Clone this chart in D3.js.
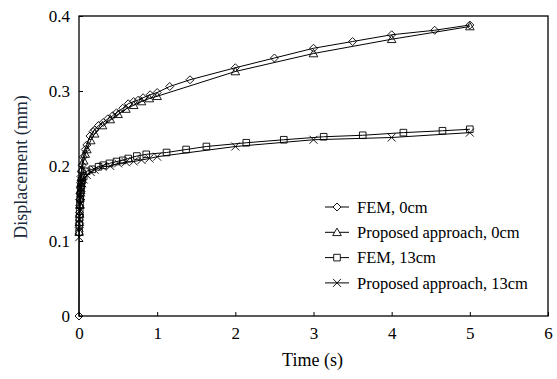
<!DOCTYPE html>
<html>
<head>
<meta charset="utf-8">
<script src="https://cdn.jsdelivr.net/npm/d3@7"></script>
<style>
  html, body { margin: 0; padding: 0; background: #fff; }
  #chart { width: 557px; height: 379px; }
</style>
</head>
<body>
<div id="chart"></div>
<script>
// Series (time in s, displacement in mm)
const femT0 = [0, 0.002, 0.004, 0.006, 0.008, 0.01, 0.013, 0.016, 0.02, 0.025, 0.03, 0.04, 0.055, 0.08, 0.1, 0.14, 0.18, 0.2, 0.25, 0.31, 0.37, 0.43, 0.48, 0.56, 0.63, 0.7, 0.76, 0.82, 0.91, 1.0, 1.16, 1.42, 2.0, 2.5, 3.0, 3.5, 4.0, 4.55, 5.0];
const femV0 = [0, 0.118, 0.128, 0.138, 0.147, 0.155, 0.163, 0.171, 0.178, 0.186, 0.193, 0.201, 0.212, 0.222, 0.228, 0.24, 0.246, 0.248, 0.254, 0.258, 0.263, 0.267, 0.271, 0.277, 0.283, 0.286, 0.288, 0.291, 0.295, 0.298, 0.306, 0.315, 0.331, 0.344, 0.357, 0.366, 0.375, 0.381, 0.388];

const propT0 = [0.002, 0.005, 0.008, 0.012, 0.016, 0.02, 0.025, 0.03, 0.04, 0.06, 0.08, 0.1, 0.15, 0.2, 0.3, 0.4, 0.5, 0.6, 0.7, 0.8, 0.9, 1.0, 2.0, 3.0, 4.0, 5.0];
const propV0 = [0.112, 0.125, 0.136, 0.148, 0.159, 0.168, 0.177, 0.185, 0.196, 0.207, 0.216, 0.222, 0.234, 0.243, 0.254, 0.262, 0.269, 0.276, 0.281, 0.286, 0.29, 0.293, 0.326, 0.35, 0.369, 0.386];

const femT13 = [0.002, 0.004, 0.006, 0.009, 0.012, 0.016, 0.02, 0.025, 0.03, 0.04, 0.06, 0.098, 0.17, 0.25, 0.31, 0.39, 0.48, 0.56, 0.63, 0.74, 0.86, 1.12, 1.37, 1.63, 2.14, 2.62, 3.13, 3.63, 4.15, 4.65, 5.0];
const femV13 = [0.112, 0.122, 0.131, 0.14, 0.148, 0.156, 0.163, 0.17, 0.175, 0.181, 0.186, 0.193, 0.1956, 0.199, 0.201, 0.2035, 0.206, 0.2075, 0.21, 0.2133, 0.2156, 0.218, 0.222, 0.226, 0.231, 0.235, 0.239, 0.241, 0.2445, 0.247, 0.249];

const propT13 = [0.002, 0.005, 0.008, 0.012, 0.016, 0.02, 0.025, 0.03, 0.04, 0.06, 0.1, 0.15, 0.2, 0.3, 0.4, 0.5, 0.6, 0.7, 0.8, 0.9, 1.0, 2.0, 3.0, 4.0, 5.0];
const propV13 = [0.105, 0.118, 0.129, 0.14, 0.15, 0.158, 0.165, 0.171, 0.177, 0.182, 0.188, 0.192, 0.195, 0.199, 0.2, 0.2035, 0.205, 0.206, 0.208, 0.21, 0.2124, 0.226, 0.235, 0.238, 0.2445];

const seriesNames = ["FEM, 0cm", "Proposed approach, 0cm", "FEM, 13cm", "Proposed approach, 13cm"];
const markerKinds = ["diamond", "triangle", "square", "cross"];
const xTicks = [0, 1, 2, 3, 4, 5, 6];
const yTicks = [0, 0.1, 0.2, 0.3, 0.4];

const FONT = "'Liberation Serif', 'Times New Roman', Times, serif";

const series = [
  { t: femT0, v: femV0 },
  { t: propT0, v: propV0 },
  { t: femT13, v: femV13 },
  { t: propT13, v: propV13 },
].map((s, i) => ({
  name: seriesNames[i],
  kind: markerKinds[i],
  points: s.t.map((t, j) => ({ t, v: s.v[j] })),
}));

const W = 557, H = 379;
const margin = { top: 16, right: 9, bottom: 63, left: 79 };
const width = W - margin.left - margin.right;
const height = H - margin.top - margin.bottom;

const svg = d3.select("#chart").append("svg")
  .attr("width", W).attr("height", H)
  .attr("viewBox", [0, 0, W, H])
  .attr("font-family", FONT);

const g = svg.append("g").attr("transform", `translate(${margin.left},${margin.top})`);

const x = d3.scaleLinear().domain([0, 6]).range([0, width]);
const y = d3.scaleLinear().domain([0, 0.4]).range([height, 0]);

// marker shapes, drawn around (0,0)
function markerPath(kind) {
  switch (kind) {
    case "diamond": return "M0,-4L4,0L0,4L-4,0Z";
    case "triangle": return "M0,-4.2L4.3,3.3L-4.3,3.3Z";
    case "square": return "M-3.3,-3.3H3.3V3.3H-3.3Z";
    case "cross": return "M-4,-4L4,4M-4,4L4,-4";
  }
}

// frame
g.append("rect")
  .attr("x", 0).attr("y", 0)
  .attr("width", width).attr("height", height)
  .attr("fill", "none").attr("stroke", "#000").attr("stroke-width", 1.3);

// X axis (ticks point inward)
g.append("g")
  .attr("transform", `translate(0,${height})`)
  .call(d3.axisBottom(x).tickValues(xTicks).tickFormat(d3.format("d")).tickSize(-4).tickPadding(11))
  .call((a) => a.attr("font-family", FONT).attr("font-size", 17))
  .call((a) => a.select(".domain").remove())
  .call((a) => a.selectAll(".tick line").attr("stroke", "#000"))
  .selectAll("text")
  .attr("fill", "#000");

// Y axis
g.append("g")
  .call(d3.axisLeft(y).tickValues(yTicks).tickFormat((d) => (d === 0 ? "0" : d3.format(".1f")(d))).tickSize(-4).tickPadding(9))
  .call((a) => a.attr("font-family", FONT).attr("font-size", 17))
  .call((a) => a.select(".domain").remove())
  .call((a) => a.selectAll(".tick line").attr("stroke", "#000"))
  .selectAll("text")
  .attr("fill", "#000");

// Lines
const line = d3.line().x((d) => x(d.t)).y((d) => y(d.v));

series.forEach((s) => {
  g.append("path")
    .datum(s.points)
    .attr("fill", "none")
    .attr("stroke", "#000")
    .attr("stroke-width", 1)
    .attr("d", line);
});

// Markers
series.forEach((s) => {
  g.append("g").selectAll("path")
    .data(s.points)
    .join("path")
    .attr("transform", (d) => `translate(${x(d.t)},${y(d.v)})`)
    .attr("d", markerPath(s.kind))
    .attr("fill", "none")
    .attr("stroke", "#000")
    .attr("stroke-width", 0.9);
});

// Axis titles
svg.append("text")
  .attr("x", margin.left + width / 2 - 1)
  .attr("y", 366)
  .attr("text-anchor", "middle")
  .attr("font-size", 18)
  .attr("fill", "#000")
  .text("Time (s)");

svg.append("text")
  .attr("transform", `translate(27,${margin.top + height / 2 + 1}) rotate(-90)`)
  .attr("text-anchor", "middle")
  .attr("font-size", 18)
  .attr("fill", "#1a2a3a")
  .text("Displacement (mm)");

// Legend
const legend = svg.append("g").attr("transform", "translate(325,207)");
series.forEach((s, i) => {
  const row = legend.append("g").attr("transform", `translate(0,${i * 25.3})`);
  row.append("line")
    .attr("x1", 0).attr("x2", 24)
    .attr("y1", 0).attr("y2", 0)
    .attr("stroke", "#000").attr("stroke-width", 1);
  row.append("path")
    .attr("transform", "translate(12,0)")
    .attr("d", markerPath(s.kind))
    .attr("fill", "#fff")
    .attr("stroke", "#000")
    .attr("stroke-width", 0.9);
  row.append("text")
    .attr("x", 32)
    .attr("y", 0)
    .attr("dy", "0.35em")
    .attr("font-size", 16.5)
    .attr("fill", "#000")
    .text(s.name);
});
</script>
</body>
</html>
